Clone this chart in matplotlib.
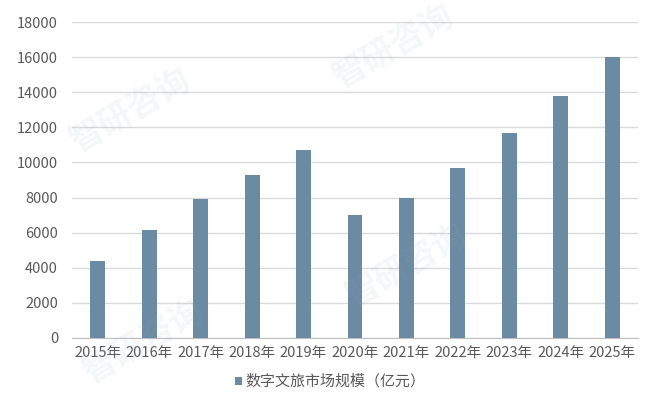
import matplotlib
matplotlib.use("Agg")
import matplotlib.pyplot as plt
from matplotlib.patches import Rectangle

plt.rcParams['font.family'] = ['Noto Sans CJK SC', 'DejaVu Sans']

years = ["2015年", "2016年", "2017年", "2018年", "2019年", "2020年",
         "2021年", "2022年", "2023年", "2024年", "2025年"]
market_size = [4400, 6150, 7900, 9300, 10700, 7000, 8000, 9700, 11700, 13800, 16000]
series_name = "数字文旅市场规模（亿元）"
y_ticks = [0, 2000, 4000, 6000, 8000, 10000, 12000, 14000, 16000, 18000]

bar_color = "#6A8BA3"
text_color = "#595959"
grid_color = "#DADADA"

fig = plt.figure(figsize=(6.57, 3.98), dpi=100)
ax = fig.add_axes([0.1096, 0.1508, 0.8615, 0.7939])

x = range(len(years))
ax.bar(x, market_size, width=0.29, color=bar_color, zorder=3)

ax.set_xlim(-0.5, len(years) - 0.5)
ax.set_ylim(0, 18000)
ax.set_yticks(y_ticks)
ax.set_yticklabels([str(v) for v in y_ticks])
ax.set_xticks(list(x))
ax.set_xticklabels(years)

ax.yaxis.grid(True, color=grid_color, linewidth=1.0, zorder=0)
ax.set_axisbelow(True)
for side in ("top", "right", "left"):
    ax.spines[side].set_visible(False)
ax.spines["bottom"].set_color("#BFBFBF")
ax.tick_params(axis="both", length=0, colors=text_color, labelsize=10.5)
ax.tick_params(axis="y", pad=10)
ax.tick_params(axis="x", pad=6)

# legend entry below the axis
fig.patches.append(Rectangle((0.357, 0.033), 0.012, 0.02, transform=fig.transFigure,
                             facecolor=bar_color, edgecolor="none"))
fig.text(0.373, 0.043, series_name, fontsize=10.8, color=text_color,
         ha="left", va="center")

# faint brand watermarks
for wx, wy in [(0.2, 0.72), (0.6, 0.88), (0.62, 0.33), (0.22, 0.14)]:
    fig.text(wx, wy, "智研咨询", fontsize=24, color="#9AA8B8", alpha=0.10,
             rotation=30, ha="center", va="center", fontweight="bold")

fig.savefig("out.png", dpi=100, facecolor="white")
